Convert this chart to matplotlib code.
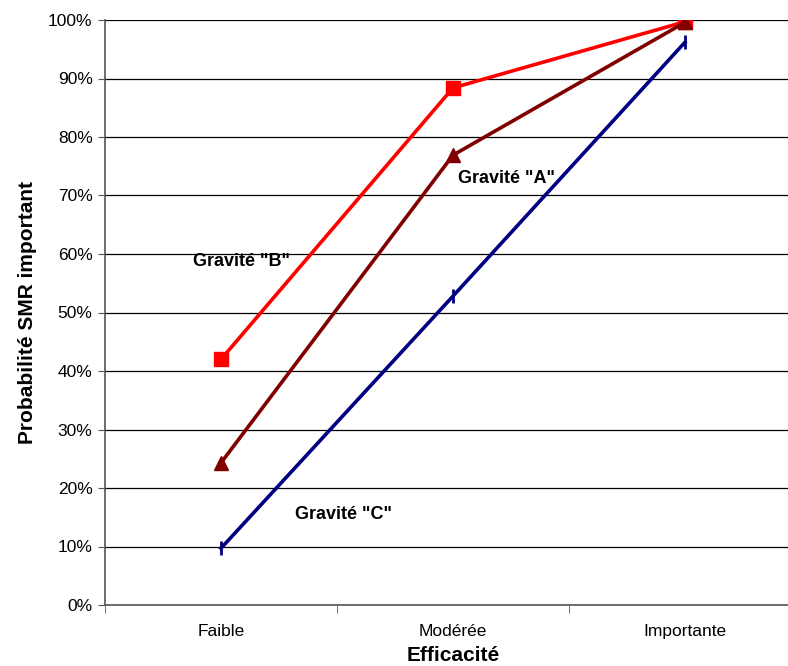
import matplotlib.pyplot as plt
import numpy as np

plt.rcParams['font.family'] = ['Liberation Sans', 'DejaVu Sans']

categories = ['Faible', 'Modérée', 'Importante']
gravite_b = [42.0, 88.4, 99.7]
gravite_a = [24.3, 76.9, 99.6]
gravite_c = [9.7, 52.8, 96.2]

fig = plt.figure(figsize=(7.88, 6.66), dpi=100)
# plot area runs a bit past the right edge, like the original
ax = fig.add_axes([105 / 788, 61 / 666, 696 / 788, 585 / 666])

x = np.arange(len(categories))

ax.plot(x, gravite_b, color='#ff0000', lw=2.6, marker='s', ms=10, zorder=3)
ax.plot(x, gravite_a, color='#800000', lw=2.6, marker='^', ms=10, zorder=3)
ax.plot(x, gravite_c, color='#000080', lw=2.6, marker='|', ms=10, mew=2, zorder=3)

ax.text(0.09, 58.7, 'Gravité "B"', fontsize=13, fontweight='bold', ha='center', va='center')
ax.text(1.23, 72.9, 'Gravité "A"', fontsize=13, fontweight='bold', ha='center', va='center')
ax.text(0.53, 15.4, 'Gravité "C"', fontsize=13, fontweight='bold', ha='center', va='center')

ax.set_xlim(-0.5, 2.5)
ax.set_ylim(0, 100)
ax.set_yticks(np.arange(0, 101, 10))
ax.set_yticklabels([f'{v}%' for v in range(0, 101, 10)], fontsize=12.5)
ax.yaxis.grid(True, color='black', lw=0.9)
ax.set_axisbelow(True)

ax.set_xticks(x)
ax.set_xticklabels(categories, fontsize=12.5)
ax.tick_params(axis='x', length=0, pad=14)
ax.set_xticks([-0.5, 0.5, 1.5], minor=True)
ax.tick_params(axis='x', which='minor', length=6, direction='out', color='#555555')
ax.tick_params(axis='y', length=5, direction='out', color='#555555', pad=4)

for s in ['top', 'right']:
    ax.spines[s].set_visible(False)
ax.spines['left'].set_color('#555555')
ax.spines['bottom'].set_color('#555555')
ax.spines['left'].set_linewidth(1.2)
ax.spines['bottom'].set_linewidth(1.2)

ax.set_xlabel('Efficacité', fontsize=15, fontweight='bold', labelpad=5)
ax.set_ylabel('Probabilité SMR important', fontsize=15, fontweight='bold', labelpad=8)

fig.savefig('out.png', dpi=100)
